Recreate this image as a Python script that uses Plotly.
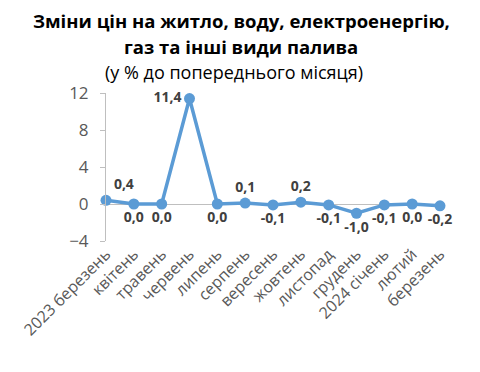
import plotly.graph_objects as go

months = ["2023 березень", "квітень", "травень", "червень", "липень", "серпень",
          "вересень", "жовтень", "листопад", "грудень", "2024 січень", "лютий", "березень"]
values = [0.4, 0.0, 0.0, 11.4, 0.0, 0.1, -0.1, 0.2, -0.1, -1.0, -0.1, 0.0, -0.2]
labels = ["0,4", "0,0", "0,0", "11,4", "0,0", "0,1", "-0,1", "0,2", "-0,1", "-1,0", "-0,1", "0,0", "-0,2"]
positions = ["top right", "bottom center", "bottom center", "middle left", "bottom center",
             "top center", "bottom center", "top center", "bottom center", "bottom center",
             "bottom center", "bottom center", "bottom center"]

title_lines = ["Зміни цін на житло, воду, електроенергію,", "газ та інші види палива"]
subtitle = "(у % до попереднього місяця)"

FONT = "Open Sans"
xs = list(range(len(months)))

W, H = 480, 372
OFF = 8  # page body margin
L, R, T, B = 106 - OFF, W - (440 - OFF), 93 - OFF, H - (241 - OFF)
plot_w = W - L - R
plot_h = H - T - B


def py(p):
    return (H - B - (p - OFF)) / plot_h


def px(p):
    return ((p - OFF) - L) / plot_w


fig = go.Figure()
fig.add_trace(go.Scatter(
    x=xs, y=values, mode="lines+markers+text",
    line=dict(color="#5B9BD5", width=3.5),
    marker=dict(color="#5B9BD5", size=11),
    text=labels, textposition=positions,
    textfont=dict(family=FONT, size=14, color="#404040", weight="bold"),
    cliponaxis=False, hoverinfo="skip",
))

annotations = [
    dict(text="<b>" + title_lines[0] + "</b>", x=px(241), xref="paper", xanchor="center",
         y=py(20), yref="paper", yanchor="middle", showarrow=False, borderpad=0,
         font=dict(family=FONT, size=18.5, color="#000000")),
    dict(text="<b>" + title_lines[1] + "</b>", x=px(241), xref="paper", xanchor="center",
         y=py(46), yref="paper", yanchor="middle", showarrow=False, borderpad=0,
         font=dict(family=FONT, size=18.5, color="#000000")),
    dict(text=subtitle, x=px(234), xref="paper", xanchor="center",
         y=py(72), yref="paper", yanchor="middle", showarrow=False, borderpad=0,
         font=dict(family=FONT, size=18, color="#000000")),
]

fig.update_layout(
    width=W, height=H,
    margin=dict(l=L, r=R, t=T, b=B),
    paper_bgcolor="white", plot_bgcolor="white",
    showlegend=False,
    annotations=annotations,
    xaxis=dict(
        range=[0, 12], tickmode="array", tickvals=xs, ticktext=months,
        tickangle=-45, showgrid=False, zeroline=False, showline=False,
        automargin=False,
        tickfont=dict(family=FONT, size=16, color="#595959"),
    ),
    yaxis=dict(
        range=[-4, 12], tickmode="array", tickvals=[-4, 0, 4, 8, 12],
        showgrid=False, zeroline=True, zerolinecolor="#BFBFBF", zerolinewidth=1,
        showline=True, linecolor="#BFBFBF", linewidth=1,
        ticks="outside", ticklen=5, tickcolor="#BFBFBF", automargin=False,
        ticklabelstandoff=8,
        tickfont=dict(family=FONT, size=17, color="#595959"),
    ),
)

fig.write_html("out.html")
